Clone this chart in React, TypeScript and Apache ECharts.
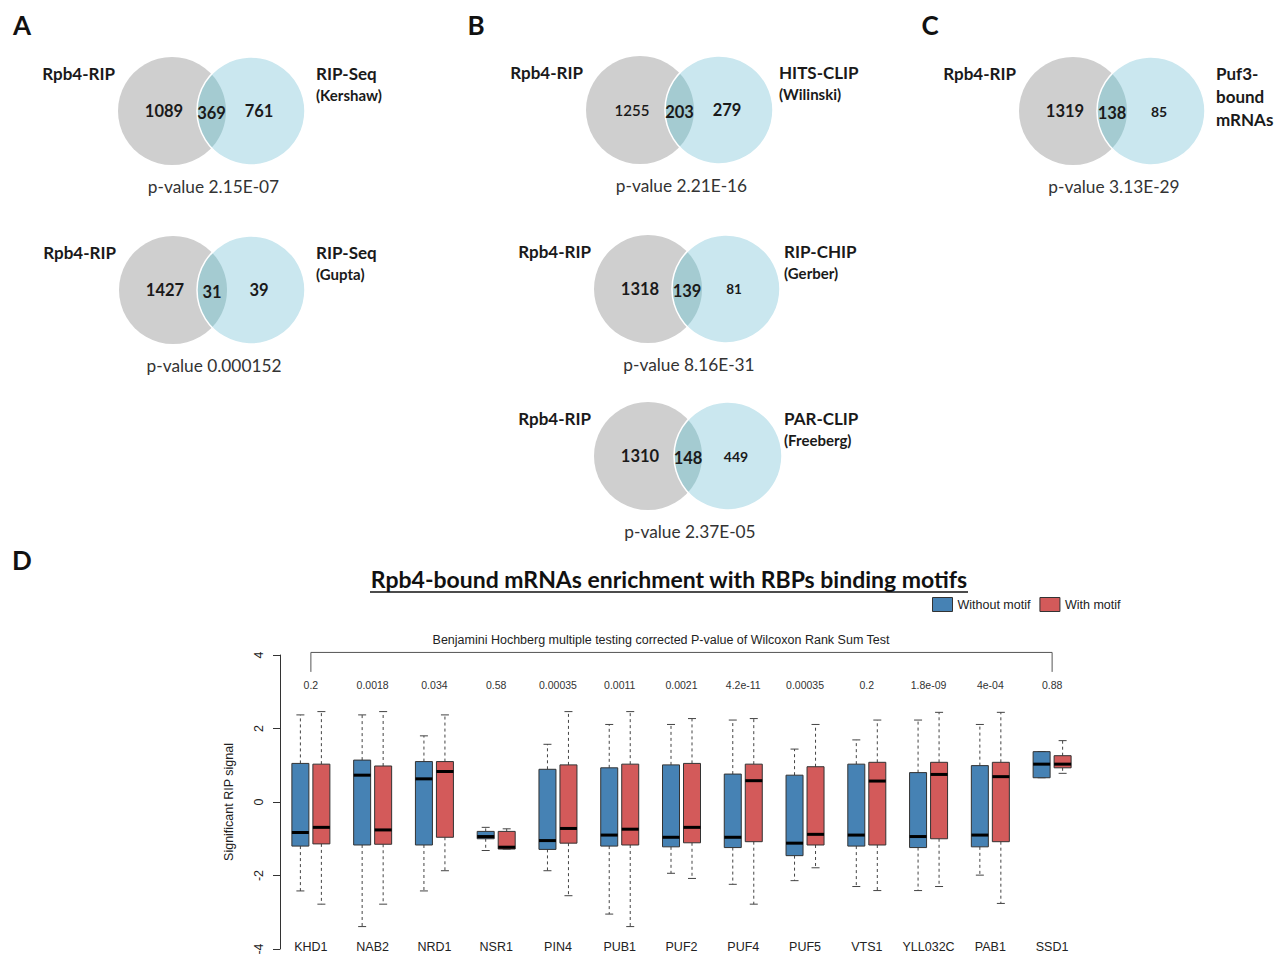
import React, { useEffect, useRef } from "react";
import * as echarts from "echarts";

// ---------- Panel D data ----------
const categories = ["KHD1", "NAB2", "NRD1", "NSR1", "PIN4", "PUB1", "PUF2", "PUF4", "PUF5", "VTS1", "YLL032C", "PAB1", "SSD1"];
const pValues = ["0.2", "0.0018", "0.034", "0.58", "0.00035", "0.0011", "0.0021", "4.2e-11", "0.00035", "0.2", "1.8e-09", "4e-04", "0.88"];
// [lower whisker, Q1, median, Q3, upper whisker]
const withoutMotif = [
  [-2.42, -1.2, -0.83, 1.05, 2.37],
  [-3.39, -1.17, 0.73, 1.14, 2.37],
  [-2.42, -1.17, 0.63, 1.1, 1.8],
  [-1.32, -1.0, -0.94, -0.8, -0.69],
  [-1.87, -1.29, -1.05, 0.89, 1.57],
  [-3.05, -1.2, -0.9, 0.93, 2.11],
  [-1.94, -1.22, -0.96, 1.01, 2.11],
  [-2.24, -1.24, -0.96, 0.76, 2.23],
  [-2.14, -1.46, -1.12, 0.73, 1.44],
  [-2.3, -1.2, -0.9, 1.03, 1.69],
  [-2.41, -1.24, -0.94, 0.8, 2.23],
  [-1.99, -1.22, -0.9, 0.99, 2.11],
  [0.66, 0.66, 1.03, 1.37, 1.37],
];
const withMotif = [
  [-2.78, -1.14, -0.69, 1.03, 2.46],
  [-2.78, -1.15, -0.76, 0.98, 2.46],
  [-1.87, -0.96, 0.83, 1.1, 2.37],
  [-1.28, -1.28, -1.23, -0.8, -0.73],
  [-2.55, -1.12, -0.72, 1.01, 2.46],
  [-3.39, -1.17, -0.74, 1.03, 2.46],
  [-2.08, -1.11, -0.69, 1.05, 2.27],
  [-2.78, -1.08, 0.58, 1.03, 2.27],
  [-1.79, -1.17, -0.88, 0.96, 2.11],
  [-2.41, -1.17, 0.57, 1.08, 2.23],
  [-2.3, -1.0, 0.75, 1.08, 2.44],
  [-2.76, -1.08, 0.69, 1.08, 2.44],
  [0.78, 0.93, 1.03, 1.26, 1.67],
];
const yTicks = [-4, -2, 0, 2, 4];
const pValueLevel = 3.18;
const bracketLow = 3.54;
const bracketHigh = 4.07;

// ---------- Venn data ----------
const vennLeftLabels = ["Rpb4-RIP", "Rpb4-RIP", "Rpb4-RIP", "Rpb4-RIP", "Rpb4-RIP", "Rpb4-RIP"];
const vennRightLabels = [
  ["RIP-Seq", "(Kershaw)"],
  ["RIP-Seq", "(Gupta)"],
  ["HITS-CLIP", "(Wilinski)"],
  ["RIP-CHIP", "(Gerber)"],
  ["PAR-CLIP", "(Freeberg)"],
  ["Puf3-", "bound", "mRNAs"],
];
const vennLeftCounts = [1089, 1427, 1255, 1318, 1310, 1319];
const vennOverlapCounts = [369, 31, 203, 139, 148, 138];
const vennRightCounts = [761, 39, 279, 81, 449, 85];
const vennPValues = ["p-value 2.15E-07", "p-value 0.000152", "p-value 2.21E-16", "p-value 8.16E-31", "p-value 2.37E-05", "p-value 3.13E-29"];

// ---------- layout / style ----------
const vennLayout = [
  { gx: 172, bx: 251, cy: 111, r: 54, rx: 316, sub: "small", sizes: [16.5, 16.5, 16.5], w0: "bold" },
  { gx: 173, bx: 251, cy: 290, r: 54, rx: 316, sub: "small", sizes: [16.5, 16.5, 16.5], w0: "bold" },
  { gx: 640, bx: 719, cy: 110, r: 54, rx: 779, sub: "small", sizes: [15, 16.5, 16.5], w0: "600" },
  { gx: 648, bx: 726, cy: 289, r: 54, rx: 784, sub: "small", sizes: [16.5, 16.5, 13.5], w0: "bold" },
  { gx: 648, bx: 728, cy: 456, r: 54, rx: 784, sub: "small", sizes: [16.5, 16.5, 14], w0: "bold" },
  { gx: 1073, bx: 1151, cy: 111, r: 54, rx: 1216, sub: "big", sizes: [16.5, 16.5, 14], w0: "bold" },
];
const panelLetters = [
  { t: "A", x: 22, y: 25 },
  { t: "B", x: 476, y: 25 },
  { t: "C", x: 930, y: 25 },
  { t: "D", x: 22, y: 560 },
];
const VFONT = 'Lato, "Open Sans", sans-serif';
const CFONT = '"Liberation Sans", Arial, sans-serif';
const GRAY = "#cfcfcf";
const LBLUE = "#cae7ef";
const LENS = "#a4cbd1";
const BLUE = "#4682b4";
const RED = "#d35a5a";
const BOX_W = 17;
const BOX_OFF = 10.5;

function lensPoints(x1: number, x2: number, cy: number, r1: number, r2: number) {
  const d = x2 - x1;
  const a = (d * d + r1 * r1 - r2 * r2) / (2 * d);
  const h = Math.sqrt(Math.max(r1 * r1 - a * a, 0));
  const px = x1 + a;
  const alpha = Math.atan2(h, x2 - px);
  const beta = Math.atan2(h, px - x1);
  const pts: number[][] = [];
  const n = 40;
  for (let i = 0; i <= n; i++) {
    const phi = Math.PI - alpha + (2 * alpha * i) / n;
    pts.push([x2 + r2 * Math.cos(phi), cy + r2 * Math.sin(phi)]);
  }
  for (let i = 0; i <= n; i++) {
    const psi = -beta + (2 * beta * i) / n;
    pts.push([x1 + r1 * Math.cos(psi), cy + r1 * Math.sin(psi)]);
  }
  return pts;
}

function txt(text: string, x: number, y: number, size: number, weight: string, family: string, align = "center", fill = "#1a1a1a") {
  return {
    type: "text",
    x,
    y,
    silent: true,
    style: { text, fontSize: size, fontWeight: weight, fontFamily: family, fill, align, verticalAlign: "middle" },
  };
}

function buildGraphics() {
  const els: any[] = [];
  panelLetters.forEach((p) => els.push(txt(p.t, p.x, p.y, 26, "bold", VFONT, "center", "#111")));
  vennLayout.forEach((L, i) => {
    els.push({ type: "circle", silent: true, shape: { cx: L.gx, cy: L.cy, r: L.r }, style: { fill: GRAY } });
    els.push({ type: "circle", silent: true, shape: { cx: L.bx, cy: L.cy, r: L.r }, style: { fill: LBLUE } });
    els.push({ type: "polygon", silent: true, shape: { points: lensPoints(L.gx, L.bx, L.cy, L.r, L.r) }, style: { fill: LENS } });
    els.push({ type: "circle", silent: true, shape: { cx: L.bx, cy: L.cy, r: L.r }, style: { fill: "none", stroke: "#ffffff", lineWidth: 1.5 } });
    els.push(txt(vennLeftLabels[i], L.gx - L.r - 3, L.cy - 38, 17, "bold", VFONT, "right"));
    vennRightLabels[i].forEach((line, k) => {
      if (L.sub === "big") {
        els.push(txt(line, L.rx, L.cy - 38 + k * 23, 17, "bold", VFONT, "left"));
      } else {
        els.push(txt(line, L.rx, L.cy - 38 + k * 22, k === 0 ? 17 : 15, "bold", VFONT, "left"));
      }
    });
    els.push(txt(String(vennLeftCounts[i]), L.gx - 8, L.cy, L.sizes[0], L.w0, VFONT));
    els.push(txt(String(vennOverlapCounts[i]), (L.gx + L.bx) / 2, L.cy + 2, L.sizes[1], "bold", VFONT));
    els.push(txt(String(vennRightCounts[i]), L.bx + 8, L.cy, L.sizes[2], "bold", VFONT));
    els.push(txt(vennPValues[i], (L.gx + L.bx) / 2 + 2, L.cy + 75, 17.3, "normal", VFONT, "center", "#333"));
  });
  // Panel D title
  els.push(txt("Rpb4-bound mRNAs enrichment with RBPs binding motifs", 669, 579, 23, "bold", VFONT, "center", "#111"));
  els.push({ type: "line", silent: true, shape: { x1: 370, y1: 592, x2: 968, y2: 592 }, style: { stroke: "#111", lineWidth: 1.5 } });
  els.push(txt("Benjamini Hochberg multiple testing corrected P-value of Wilcoxon Rank Sum Test", 661, 640, 12.5, "normal", CFONT, "center", "#222"));
  return els;
}

function boxRenderer(offset: number, color: string) {
  return (params: any, api: any) => {
    const cat = api.value(0);
    const cx = api.coord([cat, 0])[0] + offset;
    const yl = api.coord([cat, api.value(1)])[1];
    const q1 = api.coord([cat, api.value(2)])[1];
    const md = api.coord([cat, api.value(3)])[1];
    const q3 = api.coord([cat, api.value(4)])[1];
    const yu = api.coord([cat, api.value(5)])[1];
    const half = BOX_W / 2;
    const cap = 4;
    const wStyle = { stroke: "#444", lineWidth: 1, lineDash: [3, 3] };
    const cStyle = { stroke: "#444", lineWidth: 1 };
    return {
      type: "group",
      children: [
        { type: "line", shape: { x1: cx, y1: q3, x2: cx, y2: yu }, style: wStyle },
        { type: "line", shape: { x1: cx, y1: q1, x2: cx, y2: yl }, style: wStyle },
        { type: "line", shape: { x1: cx - cap, y1: yu, x2: cx + cap, y2: yu }, style: cStyle },
        { type: "line", shape: { x1: cx - cap, y1: yl, x2: cx + cap, y2: yl }, style: cStyle },
        { type: "rect", shape: { x: cx - half, y: q3, width: BOX_W, height: q1 - q3 }, style: { fill: color, stroke: "#333", lineWidth: 1 } },
        { type: "line", shape: { x1: cx - half, y1: md, x2: cx + half, y2: md }, style: { stroke: "#000", lineWidth: 3 } },
      ],
    };
  };
}

export default function App() {
  const ref = useRef<HTMLDivElement>(null);
  useEffect(() => {
    if (!ref.current) return;
    const chart = echarts.init(ref.current, null, { renderer: "svg" });
    const option: any = {
      animation: false,
      backgroundColor: "#ffffff",
      textStyle: { fontFamily: CFONT },
      legend: {
        left: 932,
        top: 597,
        padding: 0,
        itemWidth: 20,
        itemHeight: 14,
        itemGap: 9,
        selectedMode: false,
        textStyle: { fontSize: 12.5, color: "#222", fontFamily: CFONT },
        data: [
          { name: "Without motif", icon: "rect", itemStyle: { color: BLUE, borderColor: "#333", borderWidth: 1 } },
          { name: "With motif", icon: "rect", itemStyle: { color: RED, borderColor: "#333", borderWidth: 1 } },
        ],
      },
      grid: { left: 280, top: 655, width: 803, height: 294, containLabel: false, outerBoundsMode: "none" },
      xAxis: {
        type: "category",
        data: categories,
        boundaryGap: true,
        axisLine: { show: false },
        axisTick: { show: false },
        axisLabel: { margin: -9, fontSize: 12.5, color: "#222", fontFamily: CFONT, interval: 0 },
        splitLine: { show: false },
      },
      yAxis: {
        type: "value",
        min: yTicks[0],
        max: yTicks[yTicks.length - 1],
        interval: 2,
        name: "Significant RIP signal",
        nameLocation: "middle",
        nameRotate: 90,
        nameGap: 45,
        nameTextStyle: { fontSize: 12.5, color: "#222", fontFamily: CFONT },
        axisLine: { show: true, lineStyle: { color: "#333", width: 1 } },
        axisTick: { show: true, length: 7, lineStyle: { color: "#333" } },
        axisLabel: { rotate: 90, margin: 15, fontSize: 12.5, color: "#222", fontFamily: CFONT },
        splitLine: { show: false },
      },
      graphic: buildGraphics(),
      series: [
        {
          name: "Without motif",
          type: "custom",
          itemStyle: { color: BLUE },
          clip: false,
          encode: { x: 0, y: [1, 2, 3, 4, 5] },
          renderItem: boxRenderer(-BOX_OFF, BLUE),
          data: withoutMotif.map((v, i) => [i, ...v]),
        },
        {
          name: "With motif",
          type: "custom",
          itemStyle: { color: RED },
          clip: false,
          encode: { x: 0, y: [1, 2, 3, 4, 5] },
          renderItem: boxRenderer(BOX_OFF, RED),
          data: withMotif.map((v, i) => [i, ...v]),
        },
        {
          name: "pvalues",
          type: "custom",
          clip: false,
          silent: true,
          encode: { x: 0, y: 1 },
          renderItem: (params: any, api: any) => {
            const p = api.coord([api.value(0), api.value(1)]);
            return {
              type: "text",
              x: p[0],
              y: p[1],
              style: { text: pValues[params.dataIndex], fontSize: 10.5, fontFamily: CFONT, fill: "#333", align: "center", verticalAlign: "middle" },
            };
          },
          data: pValues.map((_, i) => [i, pValueLevel]),
        },
        {
          name: "bracket",
          type: "custom",
          clip: false,
          silent: true,
          encode: { x: 0, y: 1 },
          renderItem: (params: any, api: any) => {
            const a = api.coord([0, bracketLow]);
            const b = api.coord([0, bracketHigh]);
            const c = api.coord([categories.length - 1, bracketHigh]);
            const d = api.coord([categories.length - 1, bracketLow]);
            return {
              type: "polyline",
              shape: { points: [a, b, c, d] },
              style: { stroke: "#555", lineWidth: 1, fill: "none" },
            };
          },
          data: [[0, bracketLow]],
        },
      ],
    };
    chart.setOption(option);
    return () => chart.dispose();
  }, []);
  return <div ref={ref} style={{ position: "absolute", left: 0, top: 0, width: 1275, height: 954, background: "#fff" }} />;
}
